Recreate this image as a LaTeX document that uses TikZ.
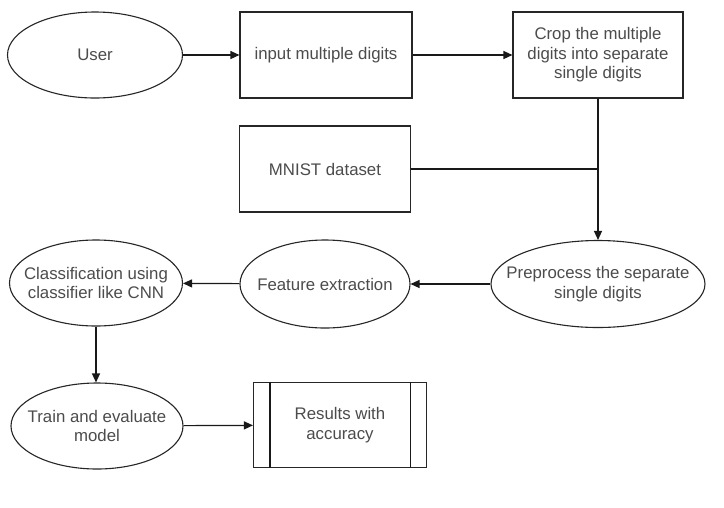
\documentclass[tikz,border=0pt]{standalone}
\usepackage{fontspec}
\setmainfont{Liberation Sans}
\usetikzlibrary{shapes.geometric,arrows.meta}
\begin{document}
\begin{tikzpicture}[x=1pt,y=-1pt,
  base/.style={draw=black!85, line width=1.1pt, inner sep=0pt, align=center,
    text=black!70, font=\fontsize{16.8}{19.5}\selectfont},
  ell/.style={base, ellipse, inner xsep=-30pt, inner ysep=-15pt},
  box/.style={base, rectangle},
  arr/.style={draw=black!90, line width=1.2pt, -{Triangle[length=9pt,width=8pt]}},
  ln/.style={draw=black!90, line width=1.1pt}]
\useasboundingbox[fill=white] (0,0) rectangle (724,507);
\node[ell, minimum width=175pt, minimum height=86pt] (u) at (95,55) {User};
\node[box, minimum width=172pt, minimum height=86pt] (i) at (326,55) {input multiple digits};
\node[box, minimum width=170pt, minimum height=86pt] (c) at (598,55) {Crop the multiple\\digits into separate\\single digits};
\node[box, minimum width=171pt, minimum height=86pt] (m) at (325,169) {MNIST dataset};
\node[ell, minimum width=214pt, minimum height=87pt] (p) at (598,284) {Preprocess the separate\\single digits};
\node[ell, minimum width=170pt, minimum height=88pt] (f) at (325,284) {Feature extraction};
\node[ell, minimum width=173pt, minimum height=86pt] (cl) at (96,283) {Classification using\\classifier like CNN};
\node[ell, minimum width=172pt, minimum height=86pt] (t) at (97,426) {Train and evaluate\\model};
\node[box, minimum width=173pt, minimum height=85pt] (r) at (340,425) {Results with\\accuracy};
\draw[ln] ([xshift=17pt]r.north west) -- ([xshift=17pt]r.south west);
\draw[ln] ([xshift=-17pt]r.north east) -- ([xshift=-17pt]r.south east);
\coordinate (j) at (c.south |- m.east);
\draw[arr] (u) -- (i);
\draw[arr] (i) -- (c);
\draw[ln] (m.east) -- (j);
\draw[arr] (c.south) -- (p.north);
\draw[arr] (p) -- (f);
\draw[arr] (f) -- (cl);
\draw[arr] (cl.south) -- (cl.south |- t.north);
\draw[arr] (t) -- (r);
\end{tikzpicture}
\end{document}
